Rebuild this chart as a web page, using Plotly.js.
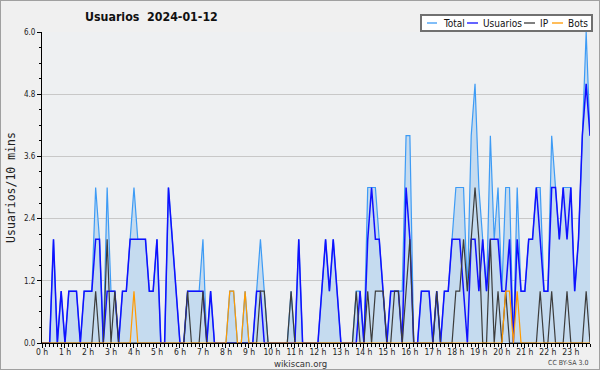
<!DOCTYPE html>
<html><head><meta charset="utf-8">
<script src="https://cdn.plot.ly/plotly-3.0.1.min.js"></script>
<style>
html,body{margin:0;padding:0;background:#f0f0f0}
#wrap{position:relative;width:600px;height:370px}
#chart{width:600px;height:370px}
#frame{position:absolute;left:0;top:0;width:600px;height:370px;box-sizing:border-box;border:1px solid #a0a0a0;pointer-events:none}
</style>
</head><body>
<div id="wrap"><div id="chart"></div><div id="frame"></div></div>
<script>
// 10-minute slots of 2024-01-12 (144 slots, index = slot)
const hourLabels = ["0 h","1 h","2 h","3 h","4 h","5 h","6 h","7 h","8 h","9 h","10 h","11 h",
  "12 h","13 h","14 h","15 h","16 h","17 h","18 h","19 h","20 h","21 h","22 h","23 h"];
const seriesNames = ["Total","Usuarios","IP","Bots"];
const seriesColors = ["#3d9bf5","#1010ff","#3c3c3c","#ff9a00"];

const total = [
 0,0,0,2,0,1,0,1,1,1,
 0,1,1,1,3,2,0,3,1,1,
 0,1,1,2,3,2,2,2,1,1,
 2,0,0,3,2,1,0,0,1,1,
 1,1,2,0,1,0,0,0,0,1,
 1,0,0,1,0,0,1,2,1,0,
 0,0,0,0,0,1,0,2,0,0,
 0,0,0,1,2,1,2,1,0,0,
 0,0,1,1,0,3,3,3,2,1,
 0,1,1,1,1,4,4,0,0,1,
 1,1,0,1,0,1,1,2,3,3,
 3,1,4,5,3,2,1,4,2,3,
 1,3,3,0,3,1,1,2,2,3,
 3,1,1,4,3,2,3,3,3,1,
 2,4,6,4];
const usuarios = [
 0,0,0,2,0,1,0,1,1,1,
 0,1,1,1,2,2,0,1,1,1,
 0,1,1,2,2,2,2,2,1,1,
 2,0,0,3,2,1,0,0,1,1,
 1,1,1,0,1,0,0,0,0,0,
 0,0,0,0,0,0,1,1,0,0,
 0,0,0,0,0,0,0,2,0,0,
 0,0,0,1,2,1,2,1,0,0,
 0,0,0,1,0,2,3,2,2,1,
 0,1,1,1,0,3,2,0,0,1,
 1,1,0,1,0,1,1,2,2,2,
 1,0,2,2,1,2,1,2,2,2,
 1,1,2,0,2,1,1,2,2,3,
 2,1,1,3,3,2,3,2,3,1,
 2,4,5,4];
const ip = [
 0,0,0,0,0,0,0,0,0,0,
 0,0,0,0,1,0,0,2,0,1,
 0,0,0,0,0,0,0,0,0,0,
 0,0,0,0,0,0,0,0,1,0,
 0,0,1,0,0,0,0,0,0,0,
 0,0,0,0,0,0,0,1,1,0,
 0,0,0,0,0,1,0,0,0,0,
 0,0,0,0,0,0,0,0,0,0,
 0,0,1,0,0,1,0,1,1,1,
 0,0,1,1,0,1,2,0,0,0,
 0,0,0,1,0,0,0,0,1,1,
 2,1,2,3,2,0,0,2,0,1,
 0,1,0,0,0,0,0,0,0,0,
 1,0,0,1,0,0,0,1,0,0,
 0,0,1,0];
const bots = [
 0,0,0,0,0,0,0,0,0,0,
 0,0,0,0,0,0,0,0,0,0,
 0,0,0,0,1,0,0,0,0,0,
 0,0,0,0,0,0,0,0,0,0,
 0,0,0,0,0,0,0,0,0,1,
 1,0,0,1,0,0,0,0,0,0,
 0,0,0,0,0,0,0,0,0,0,
 0,0,0,0,0,0,0,0,0,0,
 0,0,0,0,0,0,0,0,0,0,
 0,0,0,0,0,0,0,0,0,0,
 0,0,0,0,0,0,0,0,0,0,
 0,0,0,0,0,0,0,0,0,0,
 0,1,1,0,1,0,0,0,0,0,
 0,0,0,0,0,0,0,0,0,0,
 0,0,0,0];

const FONT = "DejaVu Sans Condensed, DejaVu Sans, sans-serif";
const W = 600, H = 370, ML = 42, MR = 10, MT = 32, MB = 27;
const PW = W - ML - MR, PH = H - MT - MB;
const px = v => (v - ML) / PW;          // page px -> paper x
const py = v => (H - MB - v) / PH;      // page px -> paper y

const traces = [
  {y: total, name: seriesNames[0], type: 'scatter', mode: 'lines',
   line: {color: seriesColors[0], width: 1.2}, fill: 'tozeroy', fillcolor: '#c5dbef', hoverinfo: 'skip'},
  {y: usuarios, name: seriesNames[1], type: 'scatter', mode: 'lines',
   line: {color: seriesColors[1], width: 1.5}, hoverinfo: 'skip'},
  {y: ip, name: seriesNames[2], type: 'scatter', mode: 'lines',
   line: {color: seriesColors[2], width: 1.2}, hoverinfo: 'skip'},
  {y: bots, name: seriesNames[3], type: 'scatter', mode: 'lines',
   line: {color: seriesColors[3], width: 1.2}, hoverinfo: 'skip'}
];

// custom legend (top right box)
const legItems = [
  {lx0: 427, lx1: 437, tx: 441},
  {lx0: 467, lx1: 478, tx: 481},
  {lx0: 524, lx1: 535, tx: 538},
  {lx0: 552, lx1: 563, tx: 566}
];
const legY = 23;
const shapes = [
  {type: 'rect', xref: 'paper', yref: 'paper', x0: px(421), x1: px(592), y0: py(31), y1: py(15),
   fillcolor: '#ffffff', line: {color: '#707070', width: 2}, layer: 'above'}
];
const annotations = [
  {text: 'wikiscan.org', xref: 'paper', yref: 'paper', x: px(300), y: py(363), showarrow: false,
   xanchor: 'center', yanchor: 'middle', font: {family: FONT, size: 9.5, color: '#333'}},
  {text: 'CC BY-SA 3.0', xref: 'paper', yref: 'paper', x: px(590), y: py(363), showarrow: false,
   xanchor: 'right', yanchor: 'middle', font: {family: FONT, size: 7, color: '#444'}}
];
legItems.forEach((it, k) => {
  shapes.push({type: 'line', xref: 'paper', yref: 'paper', x0: px(it.lx0), x1: px(it.lx1),
    y0: py(legY), y1: py(legY), line: {color: seriesColors[k], width: 1.3}, layer: 'above'});
  annotations.push({text: seriesNames[k], xref: 'paper', yref: 'paper', x: px(it.tx), y: py(legY),
    showarrow: false, xanchor: 'left', yanchor: 'middle', font: {family: FONT, size: 10, color: '#111'}});
});

const layout = {
  width: W, height: H,
  margin: {l: ML, r: MR, t: MT, b: MB},
  paper_bgcolor: '#f0f0f0', plot_bgcolor: '#eef0f2',
  showlegend: false,
  font: {family: FONT, size: 8, color: '#222'},
  title: {text: 'Usuarios\u00a0 2024-01-12', x: 85 / W, xanchor: 'left', xref: 'container',
          y: 1 - 17 / H, yanchor: 'middle', yref: 'container',
          font: {family: FONT, size: 12.3, weight: 'bold', color: '#111'}},
  xaxis: {range: [0, 143], tickmode: 'array', tickvals: hourLabels.map((_, h) => h * 6), ticktext: hourLabels,
          ticks: 'outside', ticklen: 4, tickcolor: '#000', showline: true, linecolor: '#000', linewidth: 1,
          showgrid: false, zeroline: false, fixedrange: true, ticklabelstandoff: -3,
          tickfont: {family: FONT, size: 8.5, color: '#222'},
          minor: {dtick: 1, tick0: 0, ticks: 'outside', ticklen: 3, tickcolor: '#000', showgrid: false}},
  yaxis: {range: [0, 6], tick0: 0, dtick: 1.2, tickformat: '.1f',
          ticks: 'outside', ticklen: 4, tickcolor: '#000', showline: true, linecolor: '#000', linewidth: 1,
          showgrid: true, gridcolor: '#c8c8c8', gridwidth: 1, zeroline: false, fixedrange: true,
          tickfont: {family: FONT, size: 8, color: '#222'},
          minor: {dtick: 0.3, ticks: 'outside', ticklen: 2, tickcolor: '#000', showgrid: false},
          title: {text: 'Usuarios/10 mins', standoff: 5,
                  font: {family: 'DejaVu Sans Mono, monospace', size: 11.5, color: '#222'}}},
  shapes: shapes,
  annotations: annotations
};

Plotly.newPlot('chart', traces, layout, {staticPlot: true, displayModeBar: false});
</script>
</body></html>
